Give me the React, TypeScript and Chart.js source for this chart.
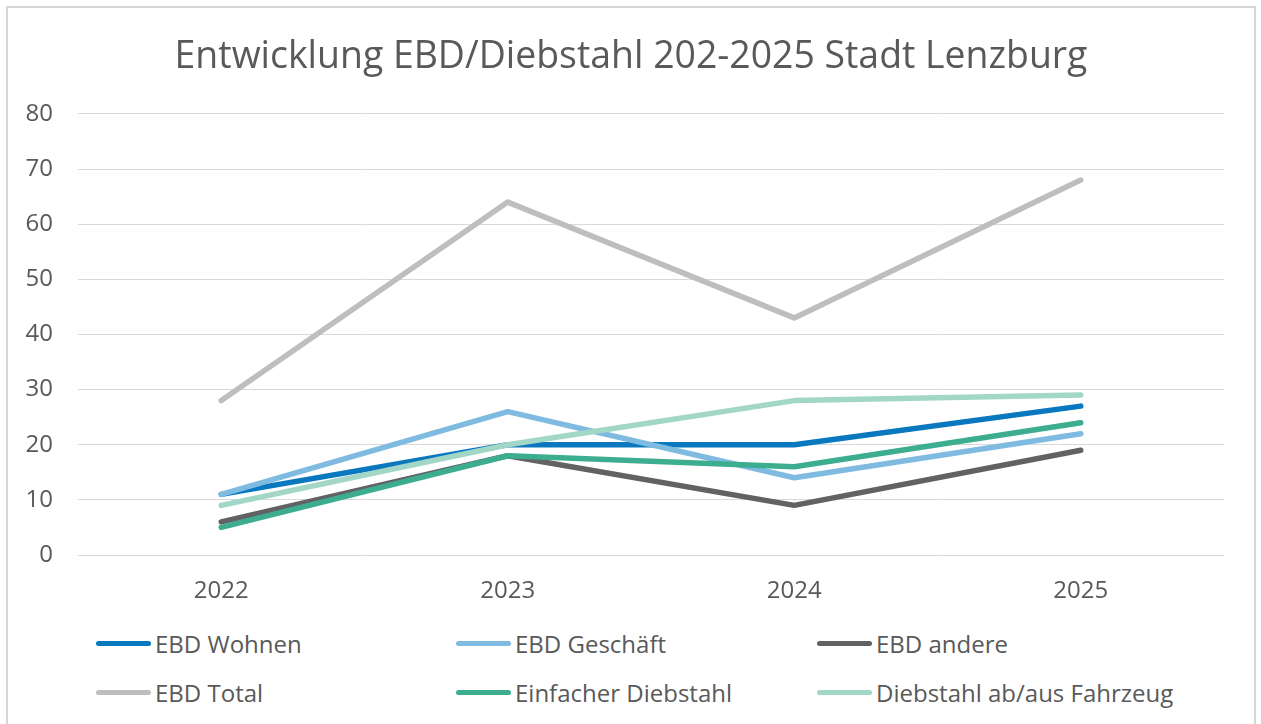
import React, { useEffect, useRef } from "react";
import { Chart, registerables } from "chart.js";

Chart.register(...registerables);

const categories = ["2022", "2023", "2024", "2025"];
const seriesNames = [
  "EBD Wohnen",
  "EBD Geschäft",
  "EBD andere",
  "EBD Total",
  "Einfacher Diebstahl",
  "Diebstahl ab/aus Fahrzeug",
];
const ebdWohnen = [11, 20, 20, 27];
const ebdGeschaeft = [11, 26, 14, 22];
const ebdAndere = [6, 18, 9, 19];
const ebdTotal = [28, 64, 43, 68];
const einfacherDiebstahl = [5, 18, 16, 24];
const diebstahlFahrzeug = [9, 20, 28, 29];
const seriesValues = [ebdWohnen, ebdGeschaeft, ebdAndere, ebdTotal, einfacherDiebstahl, diebstahlFahrzeug];
const seriesColors = ["#0A78BE", "#7FBBE0", "#626262", "#BEBEBE", "#3DAD8F", "#A2D7C7"];
const titleText = "Entwicklung EBD/Diebstahl 202-2025 Stadt Lenzburg";

const FONT = "'Open Sans', sans-serif";
const TEXT_COLOR = "#595959";

export default function App() {
  const ref = useRef<HTMLCanvasElement | null>(null);

  useEffect(() => {
    if (!ref.current) return;
    const chart = new Chart(ref.current, {
      type: "line",
      data: {
        labels: categories,
        datasets: seriesNames.map((name, i) => ({
          label: name,
          data: seriesValues[i],
          borderColor: seriesColors[i],
          backgroundColor: seriesColors[i],
          borderWidth: 5.5,
          borderCapStyle: "round" as const,
          borderJoinStyle: "round" as const,
          pointRadius: 0,
          tension: 0,
          order: seriesNames.length - i,
        })),
      },
      options: {
        animation: false,
        responsive: false,
        maintainAspectRatio: false,
        layout: { padding: 0 },
        plugins: {
          legend: { display: false },
          tooltip: { enabled: false },
          title: {
            display: true,
            text: titleText,
            color: TEXT_COLOR,
            font: { family: FONT, size: 37.4, weight: "normal" },
            padding: { top: 27, bottom: 34 },
          },
        },
        scales: {
          x: {
            offset: true,
            grid: { display: false, drawTicks: false },
            border: { display: false },
            ticks: { color: TEXT_COLOR, font: { family: FONT, size: 24 }, padding: 22 },
            afterFit: (s: any) => {
              s.height = 60;
            },
          },
          y: {
            min: 0,
            max: 80,
            grid: { color: "#D9D9D9", lineWidth: 1, drawTicks: false },
            border: { display: false },
            ticks: { stepSize: 10, color: TEXT_COLOR, font: { family: FONT, size: 24 }, padding: 25 },
            afterFit: (s: any) => {
              s.width = 70;
            },
          },
          yRight: {
            position: "right",
            min: 0,
            max: 80,
            display: true,
            grid: { display: false, drawTicks: false },
            border: { display: false },
            ticks: { display: false },
            afterFit: (s: any) => {
              s.width = 30;
            },
          },
        },
      },
    });
    return () => chart.destroy();
  }, []);

  const colLeft = [88, 448, 809];
  const rowTop = [622, 671];

  return (
    <div
      style={{
        position: "relative",
        width: 1246,
        height: 714,
        background: "#fff",
      }}
    >
      <div
        style={{
          position: "fixed",
          left: 6,
          top: 6,
          width: 1246,
          height: 740,
          border: "2px solid #D6D6D6",
          pointerEvents: "none",
          zIndex: 5,
        }}
      />
      <canvas ref={ref} width={1246} height={607} style={{ display: "block" }} />
      {seriesNames.map((name, i) => {
        const col = i % 3;
        const row = Math.floor(i / 3);
        return (
          <div
            key={name}
            style={{
              position: "absolute",
              left: colLeft[col],
              top: rowTop[row],
              height: 26,
              display: "flex",
              alignItems: "center",
              fontFamily: FONT,
              fontSize: 24,
              color: TEXT_COLOR,
              whiteSpace: "nowrap",
            }}
          >
            <span
              style={{
                display: "inline-block",
                width: 55,
                height: 5,
                borderRadius: 3,
                background: seriesColors[i],
                marginRight: 4,
              }}
            />
            <span>{name}</span>
          </div>
        );
      })}
    </div>
  );
}
